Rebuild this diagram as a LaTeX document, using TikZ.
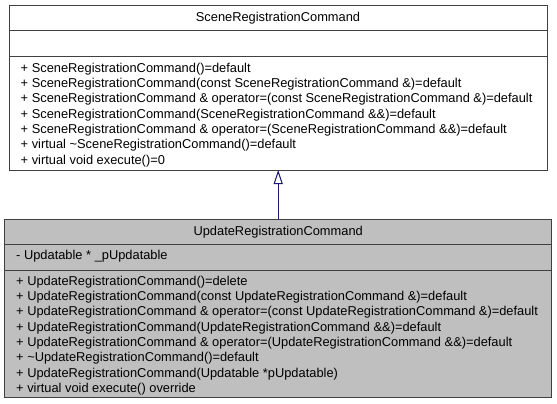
\documentclass[tikz,border=0pt]{standalone}
\usepackage{fontspec}
\setmainfont{Liberation Sans}
\usetikzlibrary{arrows.meta}
\definecolor{boxline}{HTML}{404040}
\definecolor{boxgray}{HTML}{BFBFBF}
\definecolor{arrowblue}{HTML}{191970}
\begin{document}
\begin{tikzpicture}[x=1pt,y=-1pt,
  classbox/.style={draw=boxline,line width=1pt,anchor=north west,inner sep=0pt,outer sep=0pt},
  member/.style={anchor=base west,inner sep=0pt,font=\fontsize{12.85}{15.3}\selectfont},
  ctitle/.style={anchor=base,inner sep=0pt,font=\fontsize{12.85}{15.3}\selectfont},
  sep/.style={draw=boxline,line width=1pt},
  inherit/.style={draw=arrowblue,line width=1pt,-{Triangle[open,length=14pt,width=9pt,fill=white]}}]
\useasboundingbox (0,0) rectangle (557,404);
% top class
\node[classbox,fill=white,minimum width=538pt,minimum height=164.3pt] (base) at (9,5.7) {};
\draw[sep] (9,31) -- (547,31);
\draw[sep] (9,57) -- (547,57);
\node[ctitle] (basetitle) at (278,22) {SceneRegistrationCommand};
\node[member] (b1) at (20.5,72.3) {+ SceneRegistrationCommand()=default};
\node[member] (b2) at (20.5,87.6) {+ SceneRegistrationCommand(const SceneRegistrationCommand \&)=default};
\node[member] (b3) at (20.5,102.9) {+ SceneRegistrationCommand \& operator=(const SceneRegistrationCommand \&)=default};
\node[member] (b4) at (20.5,118.2) {+ SceneRegistrationCommand(SceneRegistrationCommand \&\&)=default};
\node[member] (b5) at (20.5,133.5) {+ SceneRegistrationCommand \& operator=(SceneRegistrationCommand \&\&)=default};
\node[member] (b6) at (20.5,148.8) {+ virtual \textasciitilde SceneRegistrationCommand()=default};
\node[member] (b7) at (20.5,164.1) {+ virtual void execute()=0};
% bottom class
\node[classbox,fill=boxgray,minimum width=547pt,minimum height=178.7pt] (derived) at (4.7,219) {};
\draw[sep] (4.7,244) -- (551.7,244);
\draw[sep] (4.7,270) -- (551.7,270);
\node[ctitle] (dertitle) at (278.2,235.3) {UpdateRegistrationCommand};
\node[member] (a1) at (16,259.5) {- Updatable * \_pUpdatable};
\node[member] (d1) at (16,285.3) {+ UpdateRegistrationCommand()=delete};
\node[member] (d2) at (16,300.6) {+ UpdateRegistrationCommand(const UpdateRegistrationCommand \&)=default};
\node[member] (d3) at (16,315.9) {+ UpdateRegistrationCommand \& operator=(const UpdateRegistrationCommand \&)=default};
\node[member] (d4) at (16,331.2) {+ UpdateRegistrationCommand(UpdateRegistrationCommand \&\&)=default};
\node[member] (d5) at (16,346.5) {+ UpdateRegistrationCommand \& operator=(UpdateRegistrationCommand \&\&)=default};
\node[member] (d6) at (16,361.8) {+ \textasciitilde UpdateRegistrationCommand()=default};
\node[member] (d7) at (16,377.1) {+ UpdateRegistrationCommand(Updatable *pUpdatable)};
\node[member] (d8) at (16,392.4) {+ virtual void execute() override};
% inheritance
\draw[inherit] (derived.north) -- (derived.north |- base.south);
\end{tikzpicture}
\end{document}
